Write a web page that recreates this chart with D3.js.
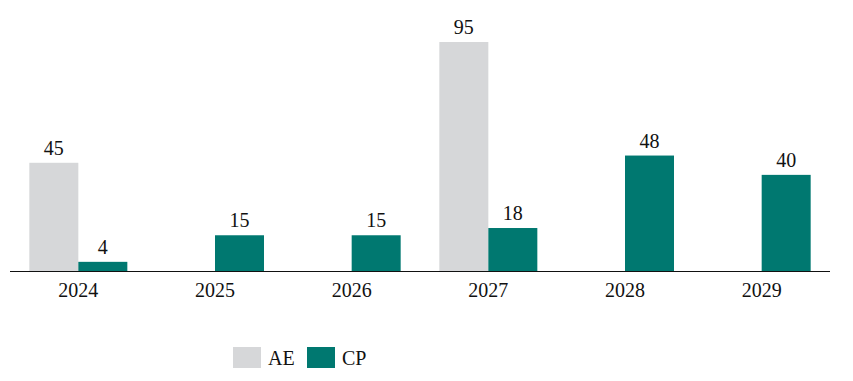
<!DOCTYPE html>
<html><head><meta charset="utf-8">
<script src="https://cdn.jsdelivr.net/npm/d3@7"></script>
<style>body{margin:0;background:#fff}svg{display:block}text{font-family:"Palatino Linotype","Book Antiqua",Palatino,"Liberation Serif",serif;fill:#111}</style>
</head><body><svg id="c" width="853" height="381"></svg>
<script>
const categories = ["2024","2025","2026","2027","2028","2029"];
const seriesNames = ["AE","CP"];
const aeValues = [45, null, null, 95, null, null];
const cpValues = [4, 15, 15, 18, 48, 40];
const colors = ["#d6d7d9","#007870"];

const svg = d3.select("#c");
const base = 271.5;
const x = d3.scaleBand().domain(categories).range([10,830]);
const y = d3.scaleLinear().domain([0,95]).range([base, 42]);
const sub = d3.scaleBand().domain(seriesNames).range([0,98]);
const bw = sub.bandwidth();

const data = [];
categories.forEach((c,i)=>{
  [aeValues[i], cpValues[i]].forEach((v,j)=>{
    if(v!=null) data.push({c, s:seriesNames[j], v, color:colors[j]});
  });
});

const g = svg.append("g");
g.selectAll("rect").data(data).join("rect")
  .attr("x", d=>x(d.c)+x.bandwidth()/2-49+sub(d.s))
  .attr("y", d=>y(d.v))
  .attr("width", bw)
  .attr("height", d=>base-y(d.v))
  .attr("fill", d=>d.color);

g.selectAll("text.v").data(data).join("text").attr("class","v")
  .attr("x", d=>x(d.c)+x.bandwidth()/2-49+sub(d.s)+bw/2)
  .attr("y", d=>y(d.v)-8)
  .attr("text-anchor","middle")
  .style("font-size","20px")
  .text(d=>d.v);

const axis = svg.append("g").attr("transform",`translate(0,${base})`)
  .call(d3.axisBottom(x).tickSize(0).tickPadding(11));
axis.select(".domain").attr("stroke","#111").attr("stroke-width",1.2).attr("d","M10,0H830");
axis.selectAll("text").style("font-size","20px").attr("fill","#111")
  .style("font-family",'"Palatino Linotype","Book Antiqua",Palatino,"Liberation Serif",serif');

const legend = svg.append("g");
const lx = [233, 307];
seriesNames.forEach((s,i)=>{
  legend.append("rect").attr("x",lx[i]).attr("y",347).attr("width",28).attr("height",21).attr("fill",colors[i]);
  legend.append("text").attr("x",lx[i]+35).attr("y",365).style("font-size","20px").text(s);
});
</script></body></html>
